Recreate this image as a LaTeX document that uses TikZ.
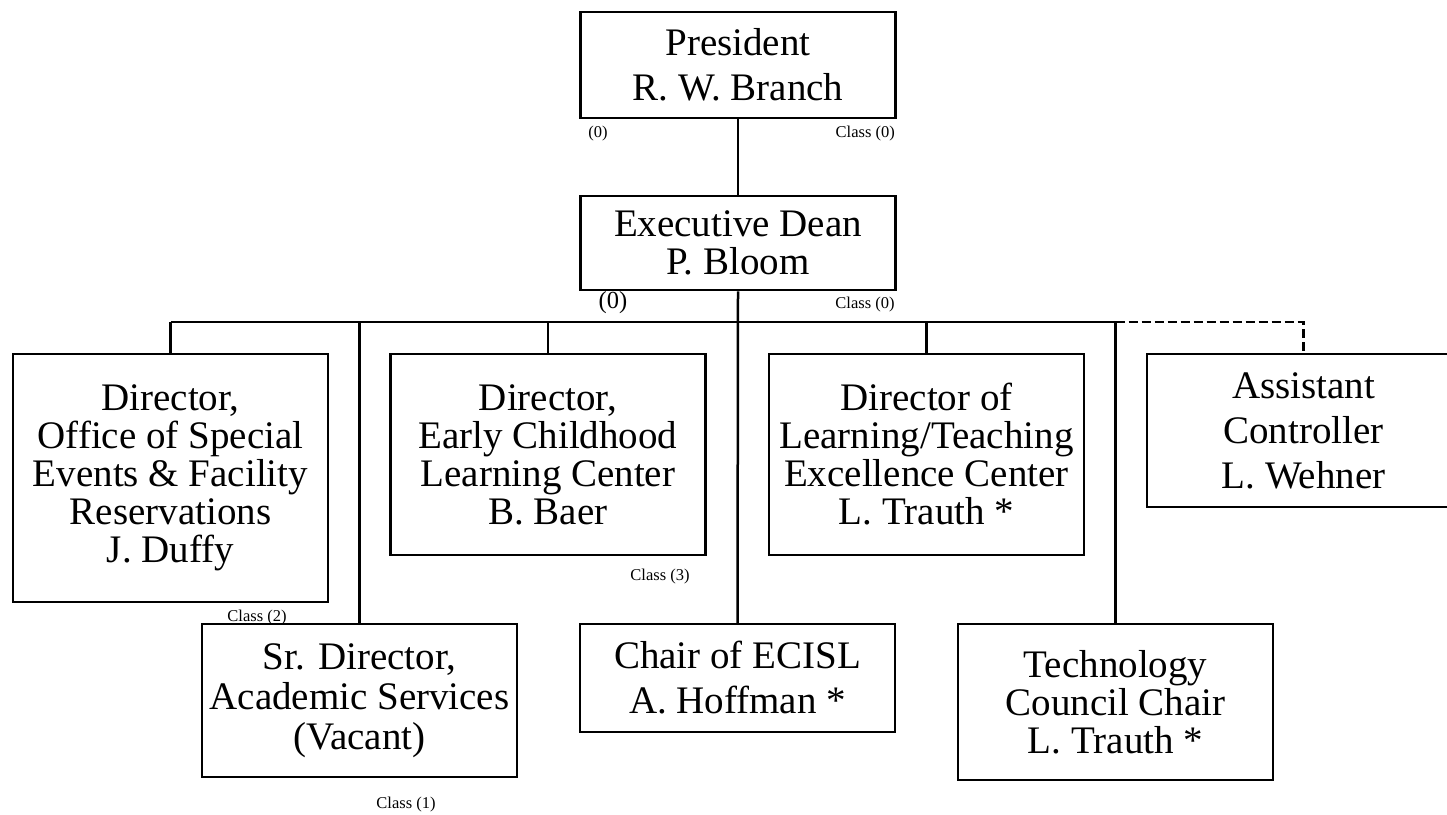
\documentclass[tikz,border=0pt]{standalone}
\usepackage{fontspec}
\setmainfont{Liberation Serif}
\usepackage{tikz}
\usetikzlibrary{positioning,calc}

\tikzset{
  unit/.style={draw,line width=2.5pt,inner sep=0pt,align=center,
    minimum width=315pt,font=\fontsize{39}{38}\selectfont},
  unitwide/.style={unit,font=\fontsize{39}{45}\selectfont},
  tag/.style={inner sep=0pt,font=\fontsize{16.5}{16.5}\selectfont},
  link/.style={line width=2.5pt},
}

\begin{document}
\begin{tikzpicture}[x=1pt,y=-1pt]
\useasboundingbox (0,0) rectangle (1447,814);
% top of the chart
\node[unitwide,minimum height=106pt] (pres) at (738,65) {President\\R. W. Branch};
\node[unit,minimum height=94pt] (dean) at (738,243) {Executive Dean\\P. Bloom};
% first row
\node[unit,minimum height=248pt] (ose) at (170.5,478) {Director,\\Office of Special\\Events \& Facility\\Reservations\\J. Duffy};
\node[unit,minimum height=201pt] (ecl) at (548,454.5) {Director,\\Early Childhood\\Learning Center\\B. Baer};
\node[unit,minimum height=201pt] (ltc) at (926.5,454.5) {Director of\\Learning/Teaching\\Excellence Center\\L. Trauth *};
\node[unitwide,minimum height=153pt,minimum width=313pt] (asst) at (1303.5,430.5) {Assistant\\Controller\\L. Wehner};
% second row
\node[unit,minimum height=153pt,font=\fontsize{39}{40}\selectfont] (srdir) at (359.5,700.5) {Sr. Director,\\Academic Services\\(Vacant)};
\node[unitwide,minimum height=108pt] (ecisl) at (737.5,678) {Chair of ECISL\\A. Hoffman *};
\node[unit,minimum height=156pt] (tech) at (1115.5,702) {Technology\\Council Chair\\L. Trauth *};
% class labels
\node[tag] (pzero) at (598,134) {(0)};
\node[tag,anchor=east] (pclass) at (895,134) {Class (0)};
\node[tag,font=\fontsize{24.5}{24.5}\selectfont] (dzero) at (613,303) {(0)};
\node[tag] (dclass) at (865,305) {Class (0)};
\node[tag] (oclass) at (257,618) {Class (2)};
\node[tag] (eclass) at (660,577) {Class (3)};
\node[tag] (sclass) at (406,805) {Class (1)};
% connectors
\coordinate (bus) at (0,322);
\draw[link] (pres.south) -- (dean.north);
\draw[link] (dean.south) -- (ecisl.north);
\draw[link] (ose.north |- bus) -- (tech.north |- bus);
\foreach \n in {ose,srdir,ecl,ltc,tech}
  \draw[link] (\n.north) -- (\n.north |- bus);
\draw[link,dashed,dash pattern=on 9pt off 4pt] (tech.north |- bus) -| (asst.north);
\end{tikzpicture}
\end{document}
